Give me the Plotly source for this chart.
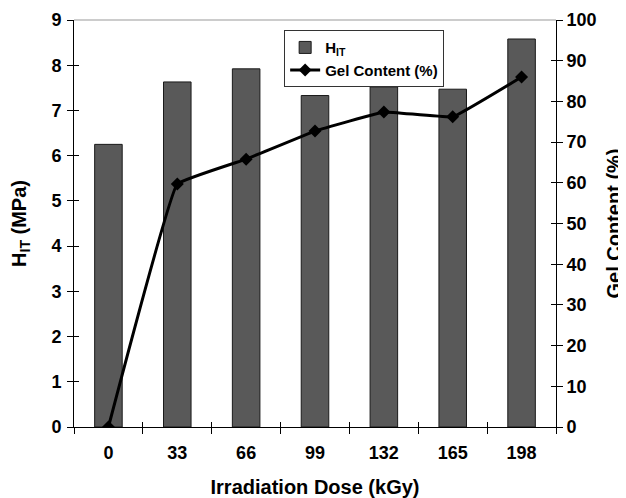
import plotly.graph_objects as go

doses = ["0", "33", "66", "99", "132", "165", "198"]
hit_values = [6.25, 7.63, 7.92, 7.33, 7.52, 7.47, 8.58]
gel_values = [0, 59.7, 65.8, 72.7, 77.4, 76.2, 86.0]

left_ticks = list(range(0, 10))
right_ticks = list(range(0, 101, 10))

FONT = "Liberation Sans, Arial, sans-serif"

fig = go.Figure()
fig.add_trace(go.Bar(
    x=doses, y=hit_values, name="H<sub>IT</sub>",
    marker=dict(color="#595959", line=dict(color="#1a1a1a", width=1)),
    yaxis="y",
))
fig.add_trace(go.Scatter(
    x=doses, y=gel_values, name="Gel Content (%)",
    mode="lines+markers",
    line=dict(color="black", width=3, shape="spline", smoothing=0.2),
    marker=dict(symbol="diamond", size=10, color="black"),
    yaxis="y2",
))

common = dict(showgrid=False, zeroline=False, automargin=False)
tick_font = dict(size=18, weight="bold")
title_font = dict(size=20, weight="bold")

fig.update_layout(
    width=618, height=490,
    margin=dict(l=66, r=70, t=12, b=71),
    paper_bgcolor="white", plot_bgcolor="white",
    font=dict(family=FONT, color="black", size=18),
    bargap=0.6,
    showlegend=True,
    legend=dict(
        x=0.436, y=0.975, xanchor="left", yanchor="top",
        bgcolor="white", bordercolor="#333333", borderwidth=1,
        font=dict(family=FONT, size=15, color="black", weight="bold"),
        tracegroupgap=0, itemwidth=30,
    ),
    xaxis=dict(
        type="category", categoryorder="array", categoryarray=doses,
        tickson="boundaries",
        ticks="outside", ticklen=6, tickcolor="black",
        showline=True, linecolor="black", linewidth=1,
        tickfont=tick_font, ticklabelstandoff=9,
        title=dict(text="Irradiation Dose (kGy)", font=title_font, standoff=20),
        **common,
    ),
    xaxis2=dict(
        type="category", categoryorder="array", categoryarray=doses,
        matches="x", overlaying="x", side="bottom",
        tickson="boundaries",
        ticks="inside", ticklen=5, tickcolor="black",
        showticklabels=False, showline=False,
        **common,
    ),
    yaxis=dict(
        range=[0, 9], tickvals=left_ticks,
        ticks="outside", ticklen=6, tickcolor="black",
        showline=True, linecolor="black", linewidth=1,
        tickfont=tick_font, ticklabelstandoff=2,
        title=dict(text="H<sub>IT</sub> (MPa)", font=title_font, standoff=19),
        **common,
    ),
    yaxis2=dict(
        range=[0, 100], tickvals=right_ticks,
        overlaying="y", side="right",
        ticks="outside", ticklen=6, tickcolor="black",
        showline=True, linecolor="black", linewidth=1,
        tickfont=tick_font,
        title=dict(text="Gel Content (%)", font=title_font, standoff=11),
        **common,
    ),
    yaxis3=dict(
        range=[0, 9], tickvals=left_ticks, overlaying="y", side="left",
        ticks="inside", ticklen=5, tickcolor="black",
        showticklabels=False, showline=False,
        **common,
    ),
    yaxis4=dict(
        range=[0, 100], tickvals=right_ticks, overlaying="y", side="right",
        ticks="inside", ticklen=5, tickcolor="black",
        showticklabels=False, showline=False,
        **common,
    ),
)

# invisible helper traces so the inner-tick overlay axes are drawn
fig.add_trace(go.Scatter(x=doses, y=hit_values, xaxis="x2", yaxis="y3",
                         mode="markers", marker=dict(opacity=0), showlegend=False,
                         hoverinfo="skip"))
fig.add_trace(go.Scatter(x=doses, y=gel_values, xaxis="x2", yaxis="y4",
                         mode="markers", marker=dict(opacity=0), showlegend=False,
                         hoverinfo="skip"))

# light frame on the top edge of the plot area
fig.add_shape(type="line", xref="paper", yref="paper", x0=0, x1=1, y0=1, y1=1,
              line=dict(color="#999999", width=1))

fig.write_html("out.html")
